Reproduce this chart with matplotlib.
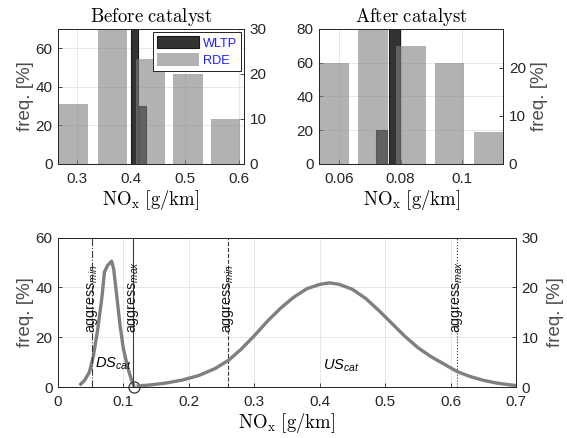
import matplotlib
matplotlib.use('Agg')
import matplotlib.pyplot as plt
from matplotlib.ticker import FuncFormatter

plt.rcParams['font.family'] = ['Liberation Sans', 'DejaVu Sans']
plt.rcParams['mathtext.fontset'] = 'custom'
plt.rcParams['mathtext.rm'] = 'cmr10'
plt.rcParams['mathtext.it'] = 'Liberation Sans:italic'
plt.rcParams['mathtext.sf'] = 'Liberation Sans'
plt.rcParams['axes.unicode_minus'] = False

# --- histogramas antes del catalizador ---
rde_antes_x = [0.2925, 0.365, 0.436, 0.5055, 0.576]
rde_antes = [13.3, 33.3, 23.3, 20.0, 10.0]
wltp_antes_x = [0.3295, 0.406, 0.422, 0.4695, 0.541]
wltp_antes = [0, 70, 30, 0, 0]

# --- histogramas despues del catalizador ---
rde_despues_x = [0.0584, 0.071, 0.0834, 0.0961, 0.1087]
rde_despues = [21.0, 28.6, 24.6, 21.0, 6.7]
wltp_despues_x = [0.0646, 0.0739, 0.078, 0.0897, 0.1026]
wltp_despues = [0, 20, 80, 0, 0]

# --- distribuciones DS / US ---
ds_x = [0.033, 0.0406, 0.048, 0.0543, 0.0608, 0.0669, 0.071, 0.076, 0.082,
        0.085, 0.0897, 0.0948, 0.0999, 0.1064, 0.1116, 0.1166]
ds_y = [0.7, 2.7, 6.0, 12.7, 23.4, 35.5, 46.2, 48.9, 50.5,
        47.5, 36.8, 24.8, 15.4, 8.0, 3.4, 0.0]
us_x = [0.120, 0.14, 0.165, 0.19, 0.215, 0.24, 0.261, 0.28, 0.30, 0.32,
        0.34, 0.36, 0.38, 0.40, 0.415, 0.43, 0.45, 0.47, 0.49, 0.51,
        0.53, 0.55, 0.57, 0.59, 0.61, 0.63, 0.65, 0.67, 0.69, 0.70]
us_y = [0.2, 0.4, 0.8, 1.4, 2.3, 3.7, 5.4, 7.6, 10.3, 13.2,
        15.8, 18.0, 19.7, 20.6, 20.9, 20.6, 19.6, 17.8, 15.4, 12.8,
        10.2, 7.9, 6.1, 4.6, 3.1, 2.1, 1.35, 0.8, 0.45, 0.3]
ds_fin = 0.1155

# limites de agresividad
agr_x = [0.052, 0.114, 0.26, 0.61]
agr_txt = ['aggress$_{min}$', 'aggress$_{max}$', 'aggress$_{min}$', 'aggress$_{max}$']
agr_estilo = ['-.', '-', '--', ':']

gris_txt = '#262626'
gris_lab = '#4d4d4d'
fmt = FuncFormatter(lambda v, p: '%g' % v)
xlab = r'$\mathrm{NO_x\ [g/km]}$'


def estilo(ax):
    ax.tick_params(direction='in', length=3, width=0.6, labelsize=11, colors=gris_txt)
    ax.tick_params(axis='x', pad=6)
    ax.tick_params(axis='y', pad=4)
    for s in ax.spines.values():
        s.set_linewidth(0.7)
        s.set_color(gris_txt)


def histo(ax, axr, xw, yw, ww, xr, yr, wr, xlim, ylim, ylimr, xticks, yticks, yticksr):
    ax.bar(xw, yw, width=ww, color='#333333', edgecolor='#1a1a1a', linewidth=0.8, label='WLTP')
    axr.bar(xr, yr, width=wr, color='#808080', alpha=0.6, edgecolor='none', label='RDE')
    ax.set_xlim(xlim)
    ax.set_ylim(ylim)
    axr.set_ylim(ylimr)
    ax.set_xticks(xticks)
    ax.set_yticks(yticks)
    axr.set_yticks(yticksr)
    ax.xaxis.set_major_formatter(fmt)
    ax.grid(True, color='#e3e3e3', linewidth=0.6)
    ax.set_axisbelow(True)
    estilo(ax)
    estilo(axr)
    ax.set_xlabel(xlab, fontsize=13.5, labelpad=1)


fig = plt.figure(figsize=(5.67, 4.38), dpi=100)

# antes
ax1 = fig.add_axes([0.1023, 0.6256, 0.328, 0.3082])
ax1r = ax1.twinx()
histo(ax1, ax1r, wltp_antes_x, wltp_antes, 0.013, rde_antes_x, rde_antes, 0.055,
      (0.264, 0.61), (0, 70), (0, 30), [0.3, 0.4, 0.5, 0.6], [0, 20, 40, 60], [0, 10, 20, 30])
ax1.set_title(r'$\mathrm{Before\ catalyst}$', fontsize=13.5, pad=5)
ax1.set_ylabel('freq. [%]', fontsize=13.5, color=gris_lab, labelpad=1)
h1, l1 = ax1.get_legend_handles_labels()
h2, l2 = ax1r.get_legend_handles_labels()
leg = ax1r.legend(h1 + h2, l1 + l2, loc='upper right', fontsize=9.2, labelcolor='#1f1fff',
                  fancybox=False, edgecolor='#222222', framealpha=1, borderaxespad=0.25,
                  handlelength=3.3, handleheight=1.1, borderpad=0.3, labelspacing=0.3,
                  handletextpad=0.3)
leg.get_frame().set_linewidth(0.7)

# despues
ax2 = fig.add_axes([0.5631, 0.6256, 0.3245, 0.3082])
ax2r = ax2.twinx()
histo(ax2, ax2r, wltp_despues_x, wltp_despues, 0.0036, rde_despues_x, rde_despues, 0.0095,
      (0.0535, 0.1135), (0, 80), (0, 28.1), [0.06, 0.08, 0.1], [0, 20, 40, 60, 80], [0, 10, 20])
ax2.set_title(r'$\mathrm{After\ catalyst}$', fontsize=13.5, pad=5)
ax2r.set_ylabel('freq. [%]', fontsize=13.5, color=gris_lab, labelpad=4)

# distribuciones
ax3 = fig.add_axes([0.1023, 0.1164, 0.8078, 0.3413])
ax3r = ax3.twinx()
ax3.plot(ds_x, ds_y, color='#7f7f7f', linewidth=2.4, solid_capstyle='butt')
ax3r.plot(us_x, us_y, color='#7f7f7f', linewidth=2.4, solid_capstyle='butt')
ax3.plot([ds_fin], [0], 'o', mfc='none', mec='#333333', ms=8, mew=0.9, clip_on=False, zorder=5)
for xv, txt, ls in zip(agr_x, agr_txt, agr_estilo):
    ax3.axvline(xv, color='#3a3a3a', linestyle=ls, linewidth=0.8)
    ax3r.text(xv, 21.5, txt, transform=ax3.transData, rotation=90, ha='center',
              va='bottom', fontsize=10.3, color='#1a1a1a')
ax3r.text(0.056, 9.5, '$DS_{cat}$', transform=ax3.transData, fontsize=10.5, va='center')
ax3r.text(0.405, 8.7, '$US_{cat}$', transform=ax3.transData, fontsize=10.5, va='center')
ax3.set_xlim(0, 0.7)
ax3.set_ylim(0, 60)
ax3r.set_ylim(0, 30)
ax3.set_xticks([0, 0.1, 0.2, 0.3, 0.4, 0.5, 0.6, 0.7])
ax3.set_yticks([0, 20, 40, 60])
ax3r.set_yticks([0, 10, 20, 30])
ax3.xaxis.set_major_formatter(fmt)
ax3.grid(True, color='#e3e3e3', linewidth=0.6)
ax3.set_axisbelow(True)
estilo(ax3)
estilo(ax3r)
ax3.set_xlabel(xlab, fontsize=13.5, labelpad=1)
ax3.set_ylabel('freq. [%]', fontsize=13.5, color=gris_lab, labelpad=1)
ax3r.set_ylabel('freq. [%]', fontsize=13.5, color=gris_lab, labelpad=6)

fig.savefig('out.png', dpi=100)
